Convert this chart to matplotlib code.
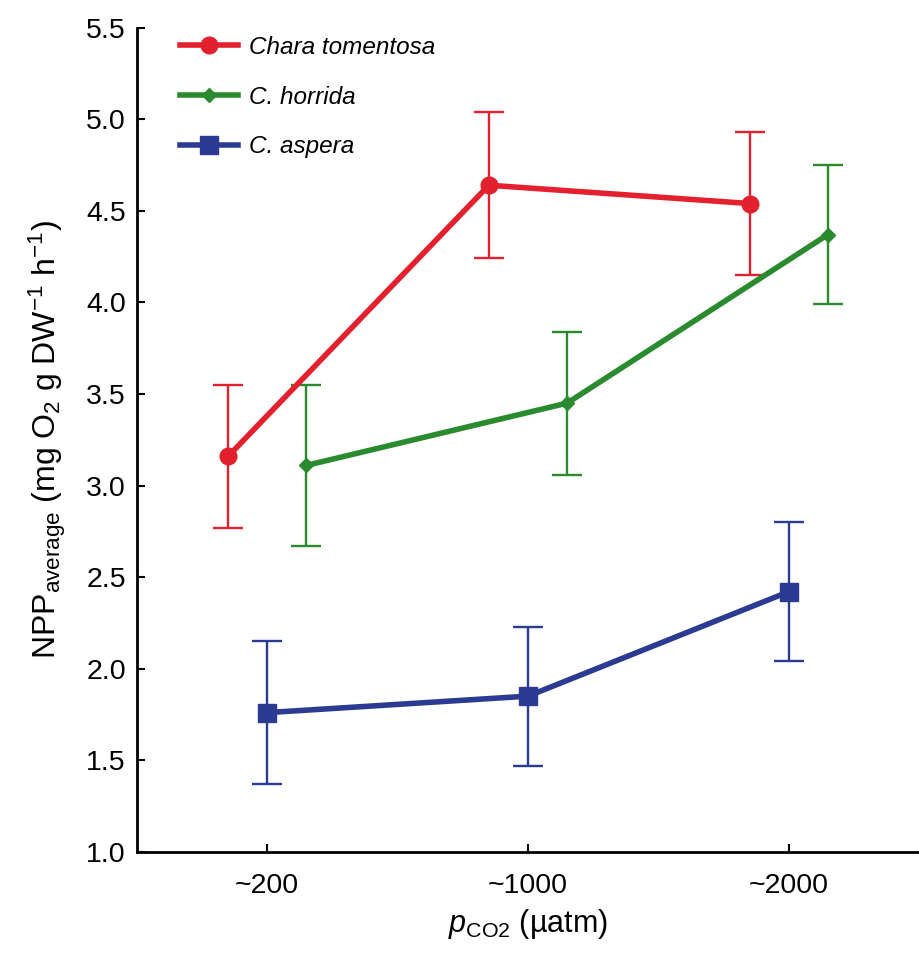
import matplotlib
matplotlib.use("Agg")
import matplotlib.pyplot as plt
from matplotlib.lines import Line2D
import numpy as np

plt.rcParams['font.family'] = ['Liberation Sans', 'DejaVu Sans']
plt.rcParams['mathtext.fontset'] = 'custom'
plt.rcParams['mathtext.rm'] = 'Liberation Sans'
plt.rcParams['mathtext.it'] = 'Liberation Sans:italic'
plt.rcParams['mathtext.bf'] = 'Liberation Sans:bold'

categories = ["~200", "~1000", "~2000"]
species = ["Chara tomentosa", "C. horrida", "C. aspera"]
tomentosa_mean = [3.16, 4.64, 4.54]
tomentosa_err = [0.39, 0.40, 0.39]
horrida_mean = [3.11, 3.45, 4.37]
horrida_err = [0.44, 0.39, 0.38]
aspera_mean = [1.76, 1.85, 2.42]
aspera_err = [0.39, 0.38, 0.38]

colors = ["#E3202D", "#2A8A2E", "#2B3A92"]
markers = ["o", "D", "s"]
msizes = [12, 7, 13]
offsets = [-0.15, 0.15, 0.0]
means = [tomentosa_mean, horrida_mean, aspera_mean]
errs = [tomentosa_err, horrida_err, aspera_err]

fig = plt.figure(figsize=(9.19, 9.56), dpi=100)
ax = fig.add_axes([0.149, 0.109, 0.851, 0.862])

x = np.arange(len(categories))
handles = []
for name, m, e, c, mk, ms, off in zip(species, means, errs, colors, markers, msizes, offsets):
    ax.errorbar(x + off, m, yerr=e, color=c, ecolor=c, elinewidth=1.7, capsize=11,
                capthick=1.7, lw=4.0, marker=mk, ms=ms, zorder=3)
    handles.append(Line2D([], [], color=c, lw=4.0, marker=mk, ms=ms, label=name))

ax.set_xlim(-0.5, 2.5)
ax.set_ylim(1.0, 5.5)
ax.set_yticks(np.arange(1.0, 5.51, 0.5))
ax.set_yticklabels([f"{v:.1f}" for v in np.arange(1.0, 5.51, 0.5)])
ax.set_xticks(x)
ax.set_xticklabels(categories)
ax.tick_params(axis='both', direction='in', labelsize=20.5, width=1.5, length=6)
ax.tick_params(axis='y', pad=8)
ax.tick_params(axis='x', pad=15)
for s in ['top', 'right']:
    ax.spines[s].set_visible(False)
for s in ['left', 'bottom']:
    ax.spines[s].set_linewidth(2)

ax.set_ylabel(r"NPP$_{\mathrm{average}}$ (mg O$_2$ g DW$^{-1}$ h$^{-1}$)", fontsize=23, labelpad=13)
ax.set_xlabel(r"$p_{\mathrm{CO2}}$ (µatm)", fontsize=22, labelpad=6)

leg = ax.legend(handles=handles, loc='upper left', bbox_to_anchor=(0.055, 0.99), frameon=False,
                fontsize=17.5, handlelength=2.4, handletextpad=0.45, labelspacing=1.1,
                borderaxespad=0, borderpad=0)
for t in leg.get_texts():
    t.set_fontstyle('italic')

fig.savefig("out.png", dpi=100)
